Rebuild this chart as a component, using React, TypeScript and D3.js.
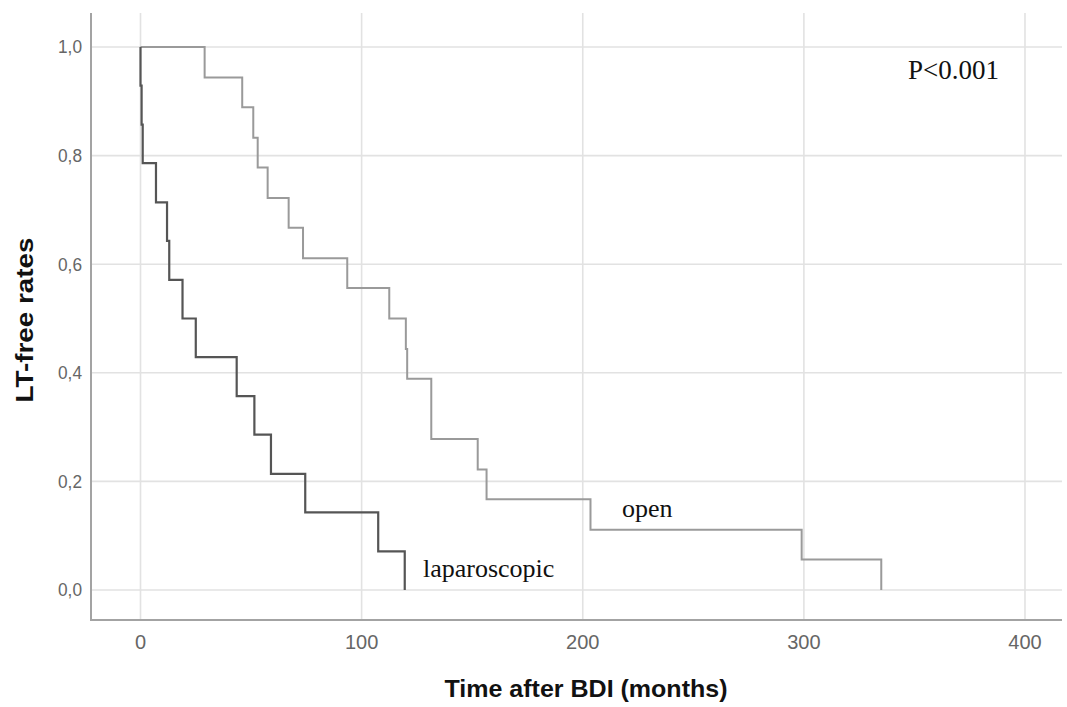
import React from 'react';
import * as d3 from 'd3';

// Kaplan-Meier steps (time in months, survival after the drop)
const lapTime = [0, 0, 0.5, 1, 7, 12, 13, 19, 25, 43.5, 51.5, 59, 74.5, 107.5, 119.5];
const lapSurv = [1, 0.929, 0.857, 0.786, 0.714, 0.643, 0.571, 0.5, 0.429, 0.357, 0.286, 0.214, 0.143, 0.071, 0];

const openTime = [0, 29, 46, 51, 53, 57.5, 67, 73.5, 93.5, 112.5, 120, 120.6, 131.5, 152.5, 156.5, 203.5, 299, 335];
const openSurv = [1, 0.944, 0.889, 0.833, 0.778, 0.722, 0.667, 0.611, 0.556, 0.5, 0.444, 0.389, 0.278, 0.222, 0.167, 0.111, 0.056, 0];

const xTicks = [0, 100, 200, 300, 400];
const yTicks = [0, 0.2, 0.4, 0.6, 0.8, 1.0];
const yTickLabels = ['0,0', '0,2', '0,4', '0,6', '0,8', '1,0'];

const width = 1067;
const height = 707;
const frame = { left: 91, right: 1062, top: 13, bottom: 620 };

const App = () => {
  const x = d3.scaleLinear().domain([0, 400]).range([140.5, 1025]);
  const y = d3.scaleLinear().domain([0, 1]).range([590, 47]);

  const line = d3.line<[number, number]>()
    .x(d => x(d[0]))
    .y(d => y(d[1]))
    .curve(d3.curveStepAfter);

  const lapPts = lapTime.map((t, i) => [t, lapSurv[i]] as [number, number]);
  const openPts = openTime.map((t, i) => [t, openSurv[i]] as [number, number]);

  const sans = 'Liberation Sans, Arial, sans-serif';
  const serif = 'Liberation Serif, Times New Roman, serif';

  return (
    <svg width={width} height={height} style={{ position: 'absolute', left: 0, top: 0, background: '#fff' }}>
      {/* grid */}
      <g stroke="#e2e2e2" strokeWidth={1.6}>
        {yTicks.map(v => (
          <line key={'gy' + v} x1={frame.left} x2={frame.right} y1={y(v)} y2={y(v)} />
        ))}
        {xTicks.map(v => (
          <line key={'gx' + v} x1={x(v)} x2={x(v)} y1={frame.top} y2={frame.bottom} />
        ))}
      </g>

      {/* axes */}
      <g stroke="#a3a3a3" strokeWidth={2}>
        <line x1={frame.left} x2={frame.left} y1={frame.top} y2={frame.bottom} />
        <line x1={frame.left - 1} x2={frame.right} y1={frame.bottom} y2={frame.bottom} />
      </g>

      {/* tick labels */}
      <g fontFamily={sans} fill="#666" fontSize={18}>
        {yTicks.map((v, i) => (
          <text key={'ty' + v} x={82} y={y(v)} dy="0.35em" textAnchor="end"
            textLength={24} lengthAdjust="spacingAndGlyphs">{yTickLabels[i]}</text>
        ))}
      </g>
      <g fontFamily={sans} fill="#666" fontSize={20}>
        {xTicks.map(v => (
          <text key={'tx' + v} x={x(v)} y={642} dy="0.35em" textAnchor="middle">{v}</text>
        ))}
      </g>

      {/* curves */}
      <path d={line(openPts) || ''} fill="none" stroke="#9a9a9a" strokeWidth={2} />
      <path d={line(lapPts) || ''} fill="none" stroke="#555" strokeWidth={2.2} />

      {/* axis titles */}
      <text x={586} y={697} textAnchor="middle" fontFamily={sans} fontWeight="bold" fontSize={24}
        textLength={283} lengthAdjust="spacingAndGlyphs" fill="#111">Time after BDI (months)</text>
      <text transform="translate(33,320) rotate(-90)" textAnchor="middle" fontFamily={sans} fontWeight="bold"
        fontSize={24} textLength={165} lengthAdjust="spacingAndGlyphs" fill="#111">LT-free rates</text>

      {/* annotations */}
      <text x={423} y={577} fontFamily={serif} fontSize={26} fill="#111">laparoscopic</text>
      <text x={622} y={517} fontFamily={serif} fontSize={26} fill="#111">open</text>
      <text x={908} y={79} fontFamily={serif} fontSize={27} fill="#111">P&lt;0.001</text>
    </svg>
  );
};

export default App;
